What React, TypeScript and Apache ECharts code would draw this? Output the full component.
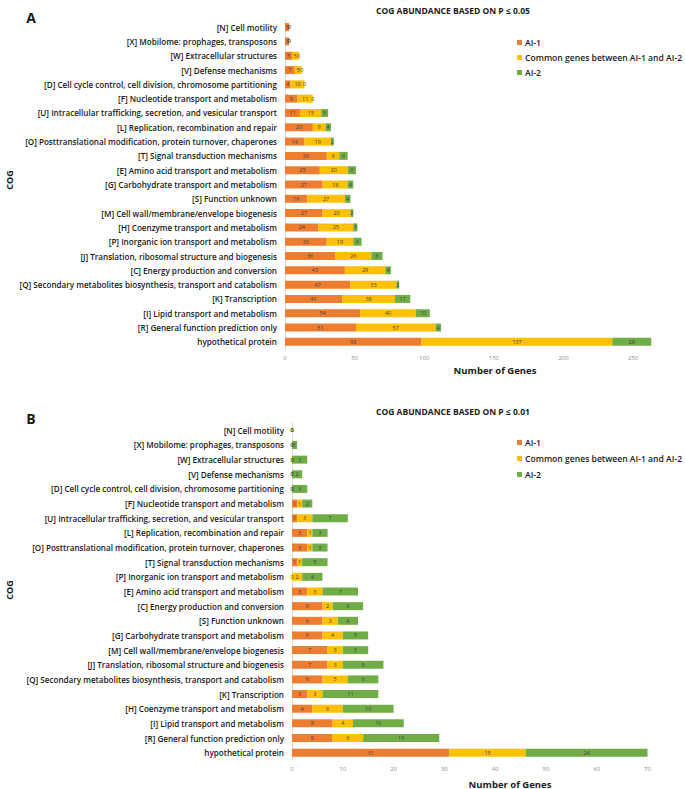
import React, { useEffect, useRef } from "react";
import * as echarts from "echarts";

const categoriesA = [
  "[N] Cell motility",
  "[X] Mobilome: prophages, transposons",
  "[W] Extracellular structures",
  "[V] Defense mechanisms",
  "[D] Cell cycle control, cell division, chromosome partitioning",
  "[F] Nucleotide transport and metabolism",
  "[U] Intracellular trafficking, secretion, and vesicular transport",
  "[L] Replication, recombination and repair",
  "[O] Posttranslational modification, protein turnover, chaperones",
  "[T] Signal transduction mechanisms",
  "[E] Amino acid transport and metabolism",
  "[G] Carbohydrate transport and metabolism",
  "[S] Function unknown",
  "[M] Cell wall/membrane/envelope biogenesis",
  "[H] Coenzyme transport and metabolism",
  "[P] Inorganic ion transport and metabolism",
  "[J] Translation, ribosomal structure and biogenesis",
  "[C] Energy production and conversion",
  "[Q] Secondary metabolites biosynthesis, transport and catabolism",
  "[K] Transcription",
  "[I] Lipid transport and metabolism",
  "[R] General function prediction only",
  "hypothetical protein",
];
const aiOneA = [3, 3, 5, 7, 4, 9, 11, 20, 14, 30, 25, 27, 16, 27, 24, 30, 36, 43, 47, 41, 54, 51, 98];
const commonA = [0, 0, 5, 5, 10, 11, 15, 9, 19, 9, 20, 18, 27, 20, 25, 19, 26, 29, 33, 38, 40, 57, 137];
const aiTwoA = [0, 0, 0, 0, 0, 0, 5, 4, 2, 6, 6, 4, 4, 2, 3, 6, 8, 4, 2, 11, 10, 4, 28];

const categoriesB = [
  "[N] Cell motility",
  "[X] Mobilome: prophages, transposons",
  "[W] Extracellular structures",
  "[V] Defense mechanisms",
  "[D] Cell cycle control, cell division, chromosome partitioning",
  "[F] Nucleotide transport and metabolism",
  "[U] Intracellular trafficking, secretion, and vesicular transport",
  "[L] Replication, recombination and repair",
  "[O] Posttranslational modification, protein turnover, chaperones",
  "[T] Signal transduction mechanisms",
  "[P] Inorganic ion transport and metabolism",
  "[E] Amino acid transport and metabolism",
  "[C] Energy production and conversion",
  "[S] Function unknown",
  "[G] Carbohydrate transport and metabolism",
  "[M] Cell wall/membrane/envelope biogenesis",
  "[J] Translation, ribosomal structure and biogenesis",
  "[Q] Secondary metabolites biosynthesis, transport and catabolism",
  "[K] Transcription",
  "[H] Coenzyme transport and metabolism",
  "[I] Lipid transport and metabolism",
  "[R] General function prediction only",
  "hypothetical protein",
];
const aiOneB = [0, 0, 0, 0, 0, 1, 1, 3, 3, 1, 0, 3, 6, 6, 6, 7, 7, 6, 3, 4, 8, 8, 31];
const commonB = [0, 0, 0, 0, 0, 1, 3, 1, 1, 1, 2, 3, 2, 3, 4, 3, 3, 5, 3, 6, 4, 6, 15];
const aiTwoB = [0, 1, 3, 2, 3, 2, 7, 3, 3, 5, 4, 7, 6, 4, 5, 5, 8, 6, 11, 10, 10, 15, 24];

const seriesNames = ["AI-1", "Common genes between AI-1 and AI-2", "AI-2"];
const seriesColors = ["#ED7D31", "#FFC000", "#70AD47"];
const xTickStepA = 50;
const xMaxA = 270;
const xTickStepB = 10;
const xMaxB = 70;

const FONT = "'Open Sans', 'Noto Sans', sans-serif";

export default function App() {
  const ref = useRef<HTMLDivElement>(null);
  useEffect(() => {
    document.body.style.margin = "0";
    const chart = echarts.init(ref.current!, null, { renderer: "svg" });
    const mkSeries = (idx: number, data: number[][], stack: string) =>
      data.map((d, i) => ({
        name: seriesNames[i],
        type: "bar",
        stack,
        xAxisIndex: idx,
        yAxisIndex: idx,
        data: d,
        barWidth: 8,
        itemStyle: { color: seriesColors[i] },
        label: {
          show: true,
          position: "inside",
          fontSize: 5.5,
          fontFamily: FONT,
          color: "#404040",
        },
      }));
    const yAxis = (idx: number, cats: string[]) => ({
      type: "category",
      gridIndex: idx,
      inverse: true,
      data: cats,
      axisLine: { show: true, lineStyle: { color: "#D9D9D9", width: 1 } },
      axisTick: { show: false },
      axisLabel: { fontSize: 8.1, fontFamily: FONT, color: "#1a1a1a", margin: 8, fontWeight: 600 },
    });
    const xAxis = (idx: number, max: number, step: number) => ({
      type: "value",
      gridIndex: idx,
      min: 0,
      max,
      interval: step,
      splitLine: { show: false },
      axisLine: { show: false },
      axisTick: { show: false },
      axisLabel: {
        fontSize: 6,
        fontFamily: FONT,
        color: "#8c8c8c",
        margin: 6,
        formatter: (v: number) => (v % step === 0 ? String(v) : ""),
      },
    });
    const legend = (top: number, gap: number) => ({
      orient: "vertical",
      left: 512,
      top,
      itemWidth: 5,
      itemHeight: 5,
      itemGap: gap,
      icon: "rect",
      data: seriesNames,
      textStyle: { fontSize: 8.6, fontFamily: FONT, fontWeight: 600, color: "#1a1a1a", padding: [0, 0, 0, -2] },
      selectedMode: false,
    });
    const txt = (x: number, y: number, text: string, size: number, extra: any = {}) => ({
      type: "text",
      x,
      y,
      ...extra,
      style: {
        text,
        fontSize: size,
        fontFamily: FONT,
        fontWeight: "bold",
        fill: "#1a1a1a",
        textAlign: "center",
        textVerticalAlign: "middle",
        ...(extra.style || {}),
      },
    });
    chart.setOption({
      animation: false,
      grid: [
        { left: 285, top: 20, width: 376, height: 329 },
        { left: 292, top: 423, width: 355.5, height: 337 },
      ],
      xAxis: [xAxis(0, xMaxA, xTickStepA), xAxis(1, xMaxB, xTickStepB)],
      yAxis: [yAxis(0, categoriesA), yAxis(1, categoriesB)],
      legend: [legend(33, 6), legend(433, 7)],
      series: [
        ...mkSeries(0, [aiOneA, commonA, aiTwoA], "a"),
        ...mkSeries(1, [aiOneB, commonB, aiTwoB], "b"),
      ],
      graphic: [
        txt(31, 17, "A", 14),
        txt(31, 418, "B", 14),
        txt(453, 10, "COG ABUNDANCE BASED ON P \u2264 0.05", 8.5),
        txt(453, 411, "COG ABUNDANCE BASED ON P \u2264 0.01", 8.5),
        txt(495, 370, "Number of Genes", 9.5),
        txt(510, 784, "Number of Genes", 9.5),
        txt(9, 180, "COG", 9, { rotation: Math.PI / 2 }),
        txt(9, 590, "COG", 9, { rotation: Math.PI / 2 }),
      ],
    });
    return () => chart.dispose();
  }, []);
  return <div ref={ref} style={{ width: 685, height: 789 }} />;
}
